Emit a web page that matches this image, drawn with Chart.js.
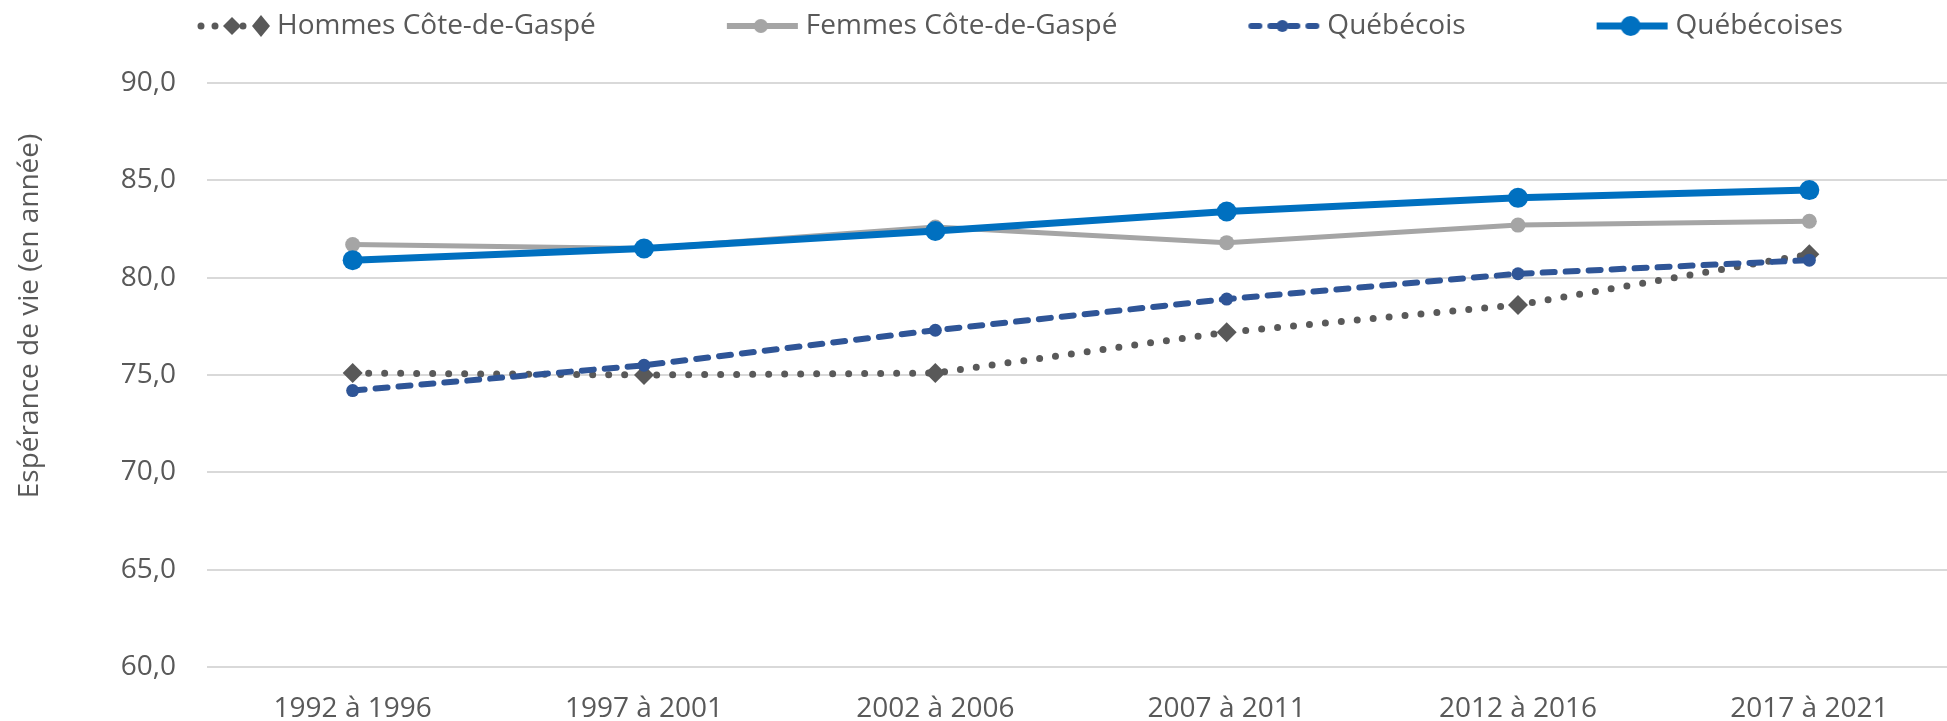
<!DOCTYPE html>
<html>
<head>
<meta charset="utf-8">
<script src="https://cdn.jsdelivr.net/npm/chart.js@4.4.1/dist/chart.umd.min.js"></script>
<style>
html, body { margin: 0; padding: 0; background: #fff; overflow: hidden; }
#wrap { width: 1947px; height: 721px; overflow: hidden; }
canvas { display: block; }
</style>
</head>
<body>
<div id="wrap"><canvas id="chart" width="1965" height="721"></canvas></div>
<script>
// periods and series (life expectancy, years)
const periodes = ["1992 à 1996", "1997 à 2001", "2002 à 2006", "2007 à 2011", "2012 à 2016", "2017 à 2021"];

const hommesGaspe = [75.1, 75.0, 75.1, 77.2, 78.6, 81.2];
const femmesGaspe = [81.7, 81.5, 82.6, 81.8, 82.7, 82.9];
const quebecois = [74.2, 75.5, 77.3, 78.9, 80.2, 80.9];
const quebecoises = [80.9, 81.5, 82.4, 83.4, 84.1, 84.5];

const yTicks = [60, 65, 70, 75, 80, 85, 90];
const yTitle = "Espérance de vie (en année)";

const FONT = '"Open Sans", "Noto Sans", sans-serif';
const TEXT = "#595959";

/* ===========================
   LEGEND ICONS
=========================== */

// icon canvas is 206 wide, drawn centred on a 186 px legend box;
// the symbol sits at its right end, just before the label text
function makeIcon(color, width, dash, marker, radius, extraDiamond){

    const c = document.createElement("canvas");
    c.width = 206;
    c.height = 40;
    const g = c.getContext("2d");

    const x0 = 131, x1 = 202, cx = 165;

    g.strokeStyle = color;
    g.fillStyle = color;
    g.lineWidth = width;
    g.lineCap = dash.length ? "round" : "butt";
    g.setLineDash(dash);
    g.beginPath();
    g.moveTo(dash.length ? x0 + 3 : x0, 20);
    g.lineTo(extraDiamond ? x1 - 12 : x1, 20);
    g.stroke();
    g.setLineDash([]);

    g.beginPath();
    if(marker === "diamond"){
        g.moveTo(cx, 20 - radius);
        g.lineTo(cx + radius, 20);
        g.lineTo(cx, 20 + radius);
        g.lineTo(cx - radius, 20);
        g.closePath();
    }
    else{
        g.arc(cx, 20, radius, 0, Math.PI * 2);
    }
    g.fill();

    if(extraDiamond){
        g.beginPath();
        g.moveTo(x1 - 8, 9);
        g.lineTo(x1 + 1, 20);
        g.lineTo(x1 - 8, 31);
        g.lineTo(x1 - 17, 20);
        g.closePath();
        g.fill();
    }

    return c;
}

const icons = [
    makeIcon("#595959", 7, [0, 14], "diamond", 9, true),
    makeIcon("#a5a5a5", 6, [], "circle", 7, false),
    makeIcon("#2f5597", 6, [8, 11], "circle", 6, false),
    makeIcon("#0070c0", 7, [], "circle", 10, false)
];

/* ===========================
   PLUGINS
=========================== */

const legendSpace = {
    id: "legendSpace",
    beforeInit(chart){
        const fit = chart.legend.fit;
        chart.legend.fit = function(){
            fit.bind(chart.legend)();
            this.height += 33;
        };
    }
};

const yTitlePlugin = {
    id: "yTitle",
    afterDraw(chart){
        const ctx = chart.ctx;
        ctx.save();
        ctx.translate(30, 316);
        ctx.rotate(-Math.PI / 2);
        ctx.font = "28px " + FONT;
        ctx.fillStyle = TEXT;
        ctx.textAlign = "center";
        ctx.textBaseline = "middle";
        ctx.fillText(yTitle, 0, 0);
        ctx.restore();
    }
};

/* ===========================
   CHART
=========================== */

const chart = new Chart(document.getElementById("chart"), {

    type: "line",

    data: {
        labels: periodes,
        datasets: [
            {
                label: "Hommes Côte-de-Gaspé",
                data: hommesGaspe,
                borderColor: "#595959",
                backgroundColor: "#595959",
                borderWidth: 7,
                borderDash: [0, 16],
                borderCapStyle: "round",
                pointStyle: "rectRot",
                pointRadius: 10,
                pointBorderWidth: 0,
                order: 3
            },
            {
                label: "Femmes Côte-de-Gaspé",
                data: femmesGaspe,
                borderColor: "#a5a5a5",
                backgroundColor: "#a5a5a5",
                borderWidth: 5,
                pointRadius: 7.5,
                pointBorderWidth: 0,
                order: 2
            },
            {
                label: "Québécois",
                data: quebecois,
                borderColor: "#2f5597",
                backgroundColor: "#2f5597",
                borderWidth: 6,
                borderDash: [12, 11],
                borderCapStyle: "round",
                pointRadius: 6.5,
                pointBorderWidth: 0,
                order: 1
            },
            {
                label: "Québécoises",
                data: quebecoises,
                borderColor: "#0070c0",
                backgroundColor: "#0070c0",
                borderWidth: 7,
                pointRadius: 10,
                pointBorderWidth: 0,
                order: 0
            }
        ]
    },

    options: {
        responsive: false,
        animation: false,
        devicePixelRatio: 1,
        layout: {
            padding: { left: 67, top: 2, right: 0, bottom: 0 }
        },
        plugins: {
            tooltip: { enabled: false },
            legend: {
                position: "top",
                align: "start",
                labels: {
                    usePointStyle: true,
                    pointStyleWidth: 186,
                    padding: 10,
                    color: TEXT,
                    font: { family: FONT, size: 28 },
                    sort: (a, b) => a.datasetIndex - b.datasetIndex,
                    generateLabels(ch){
                        const items = Chart.defaults.plugins.legend.labels.generateLabels(ch);
                        items.forEach(it => { it.pointStyle = icons[it.datasetIndex]; });
                        return items;
                    }
                }
            }
        },
        scales: {
            x: {
                offset: true,
                grid: { display: false, drawTicks: false },
                border: { display: false },
                ticks: {
                    color: TEXT,
                    padding: 25,
                    maxRotation: 0,
                    font: { family: FONT, size: 28 }
                },
                afterFit(scale){ scale.height = 54; }
            },
            y: {
                min: yTicks[0],
                max: yTicks[yTicks.length - 1],
                grid: { color: "#d9d9d9", lineWidth: 2, drawTicks: false },
                border: { display: false },
                afterBuildTicks(scale){
                    scale.ticks = yTicks.map(v => ({ value: v }));
                },
                ticks: {
                    color: TEXT,
                    padding: 31,
                    font: { family: FONT, size: 28 },
                    callback: v => v.toFixed(1).replace(".", ",")
                },
                afterFit(scale){ scale.width = 140; }
            }
        }
    },

    plugins: [legendSpace, yTitlePlugin]
});
</script>
</body>
</html>
